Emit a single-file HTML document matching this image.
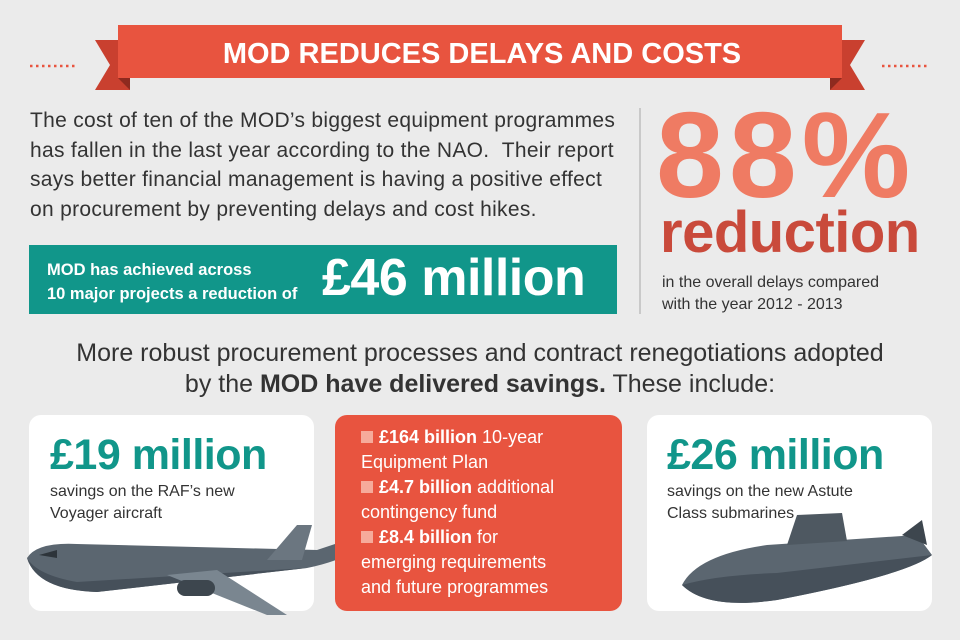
<!DOCTYPE html>
<html><head><meta charset="utf-8">
<style>
*{margin:0;padding:0;box-sizing:border-box}
body{width:960px;height:640px;background:#ebebeb;font-family:"Liberation Sans",sans-serif;position:relative;overflow:hidden;color:#333}
.abs{position:absolute}
.p{font-size:21px;line-height:29.5px;color:#333;letter-spacing:0.3px;white-space:nowrap}
.card{position:absolute;top:415px;height:196px;border-radius:12px;background:#fff}
.big{font-weight:bold;color:#11968a;font-size:43px;letter-spacing:-0.5px}
.sm{font-size:16px;line-height:22px;color:#333}
.bl{font-size:18px;line-height:25px;color:#fff}
.sq{display:inline-block;width:12px;height:12px;background:#f6ab9b;margin-right:6px}
</style></head><body>
<svg class="abs" style="left:0;top:0" width="960" height="100">
<polygon points="95,40 130,40 130,90 95,90 110,65" fill="#c9402f"/>
<polygon points="865,40 830,40 830,90 865,90 850,65" fill="#c9402f"/>
<polygon points="118,78 130,90 130,78" fill="#8e2a1f"/>
<polygon points="842,78 830,90 830,78" fill="#8e2a1f"/>
<rect x="118" y="25" width="724" height="53" fill="#e8543f"/>
<line x1="30" y1="66" x2="78" y2="66" stroke="#e8543f" stroke-width="2.5" stroke-dasharray="2.5,3.5"/>
<line x1="882" y1="66" x2="930" y2="66" stroke="#e8543f" stroke-width="2.5" stroke-dasharray="2.5,3.5"/>
<text x="482" y="63" text-anchor="middle" fill="#fff" font-family="Liberation Sans" font-weight="bold" font-size="29">MOD REDUCES DELAYS AND COSTS</text>
</svg>
<div class="abs p" style="left:30px;top:106px">The cost of ten of the MOD’s biggest equipment programmes<br>has fallen in the last year according to the NAO. &nbsp;Their report<br>says better financial management is having a positive effect<br>on procurement by preventing delays and cost hikes.</div>
<div class="abs" style="left:29px;top:245px;width:588px;height:69px;background:#11968a">
<div class="abs" style="left:18px;top:13px;color:#fff;font-weight:bold;font-size:16.5px;line-height:24px">MOD has achieved across<br>10 major projects a reduction of</div>
<div class="abs" style="left:293px;top:3px;color:#fff;font-weight:bold;font-size:52px;letter-spacing:-0.5px">£46 million</div>
</div>
<div class="abs" style="left:639px;top:108px;width:2px;height:206px;background:#c9c9c9"></div>
<div class="abs" style="left:656px;top:90px;font-size:122px;font-weight:bold;color:#ef7b63;letter-spacing:5px;line-height:130px">88%</div>
<div class="abs" style="left:660px;top:198px;font-size:58px;font-weight:bold;color:#c94a3b;letter-spacing:-0.5px;line-height:70px">reduction</div>
<div class="abs sm" style="left:662px;top:272px;line-height:22px">in the overall delays compared<br>with the year 2012 - 2013</div>
<div class="abs" style="left:0;top:338px;width:960px;text-align:center;font-size:25px;line-height:31px;color:#333">More robust procurement processes and contract renegotiations adopted<br>by the <b>MOD have delivered savings.</b> These include:</div>
<div class="card" style="left:29px;width:285px">
<div class="abs big" style="left:21px;top:16px">£19 million</div>
<div class="abs sm" style="left:21px;top:66px">savings on the RAF’s new<br>Voyager aircraft</div>
<svg class="abs" style="left:-12px;top:105px" width="340" height="100">
<path d="M10,38 Q20,22 60,24 L300,30 L330,20 L355,14 L340,30 Q320,42 290,48 L80,72 Q20,70 10,38Z" fill="#5b6670"/>
<path d="M10,38 Q20,55 60,62 L290,48 L80,72 Q20,70 10,38Z" fill="#46505a"/>
<polygon points="250,40 280,5 295,5 285,40" fill="#6b7680"/>
<polygon points="150,55 250,95 270,95 200,50" fill="#7a8690"/>
<rect x="160" y="60" width="38" height="16" rx="8" fill="#3d464e"/>
<path d="M22,35 L40,30 L40,38 Z" fill="#2d343a"/>
</svg>
</div>
<div class="card" style="left:335px;width:287px;background:#e8543f">
<div class="abs bl" style="left:26px;top:10px"><span class="sq"></span><b>£164 billion</b> 10-year<br>Equipment Plan<br><span class="sq"></span><b>£4.7 billion</b> additional<br>contingency fund<br><span class="sq"></span><b>£8.4 billion</b> for<br>emerging requirements<br>and future programmes</div>
</div>
<div class="card" style="left:647px;width:285px">
<div class="abs big" style="left:20px;top:16px">£26 million</div>
<div class="abs sm" style="left:20px;top:66px">savings on the new Astute<br>Class submarines</div>
<svg class="abs" style="left:30px;top:90px" width="260" height="110">
<path d="M5,80 Q20,50 90,40 L240,30 L255,50 Q230,70 100,95 Q30,105 5,80Z" fill="#5b6670"/>
<path d="M5,80 Q40,70 100,68 L255,50 Q230,70 100,95 Q30,105 5,80Z" fill="#46505a"/>
<polygon points="110,40 120,10 165,8 170,36" fill="#4e5861"/>
<polygon points="225,30 245,15 250,40" fill="#3d464e"/>
</svg>
</div>
</body></html>
